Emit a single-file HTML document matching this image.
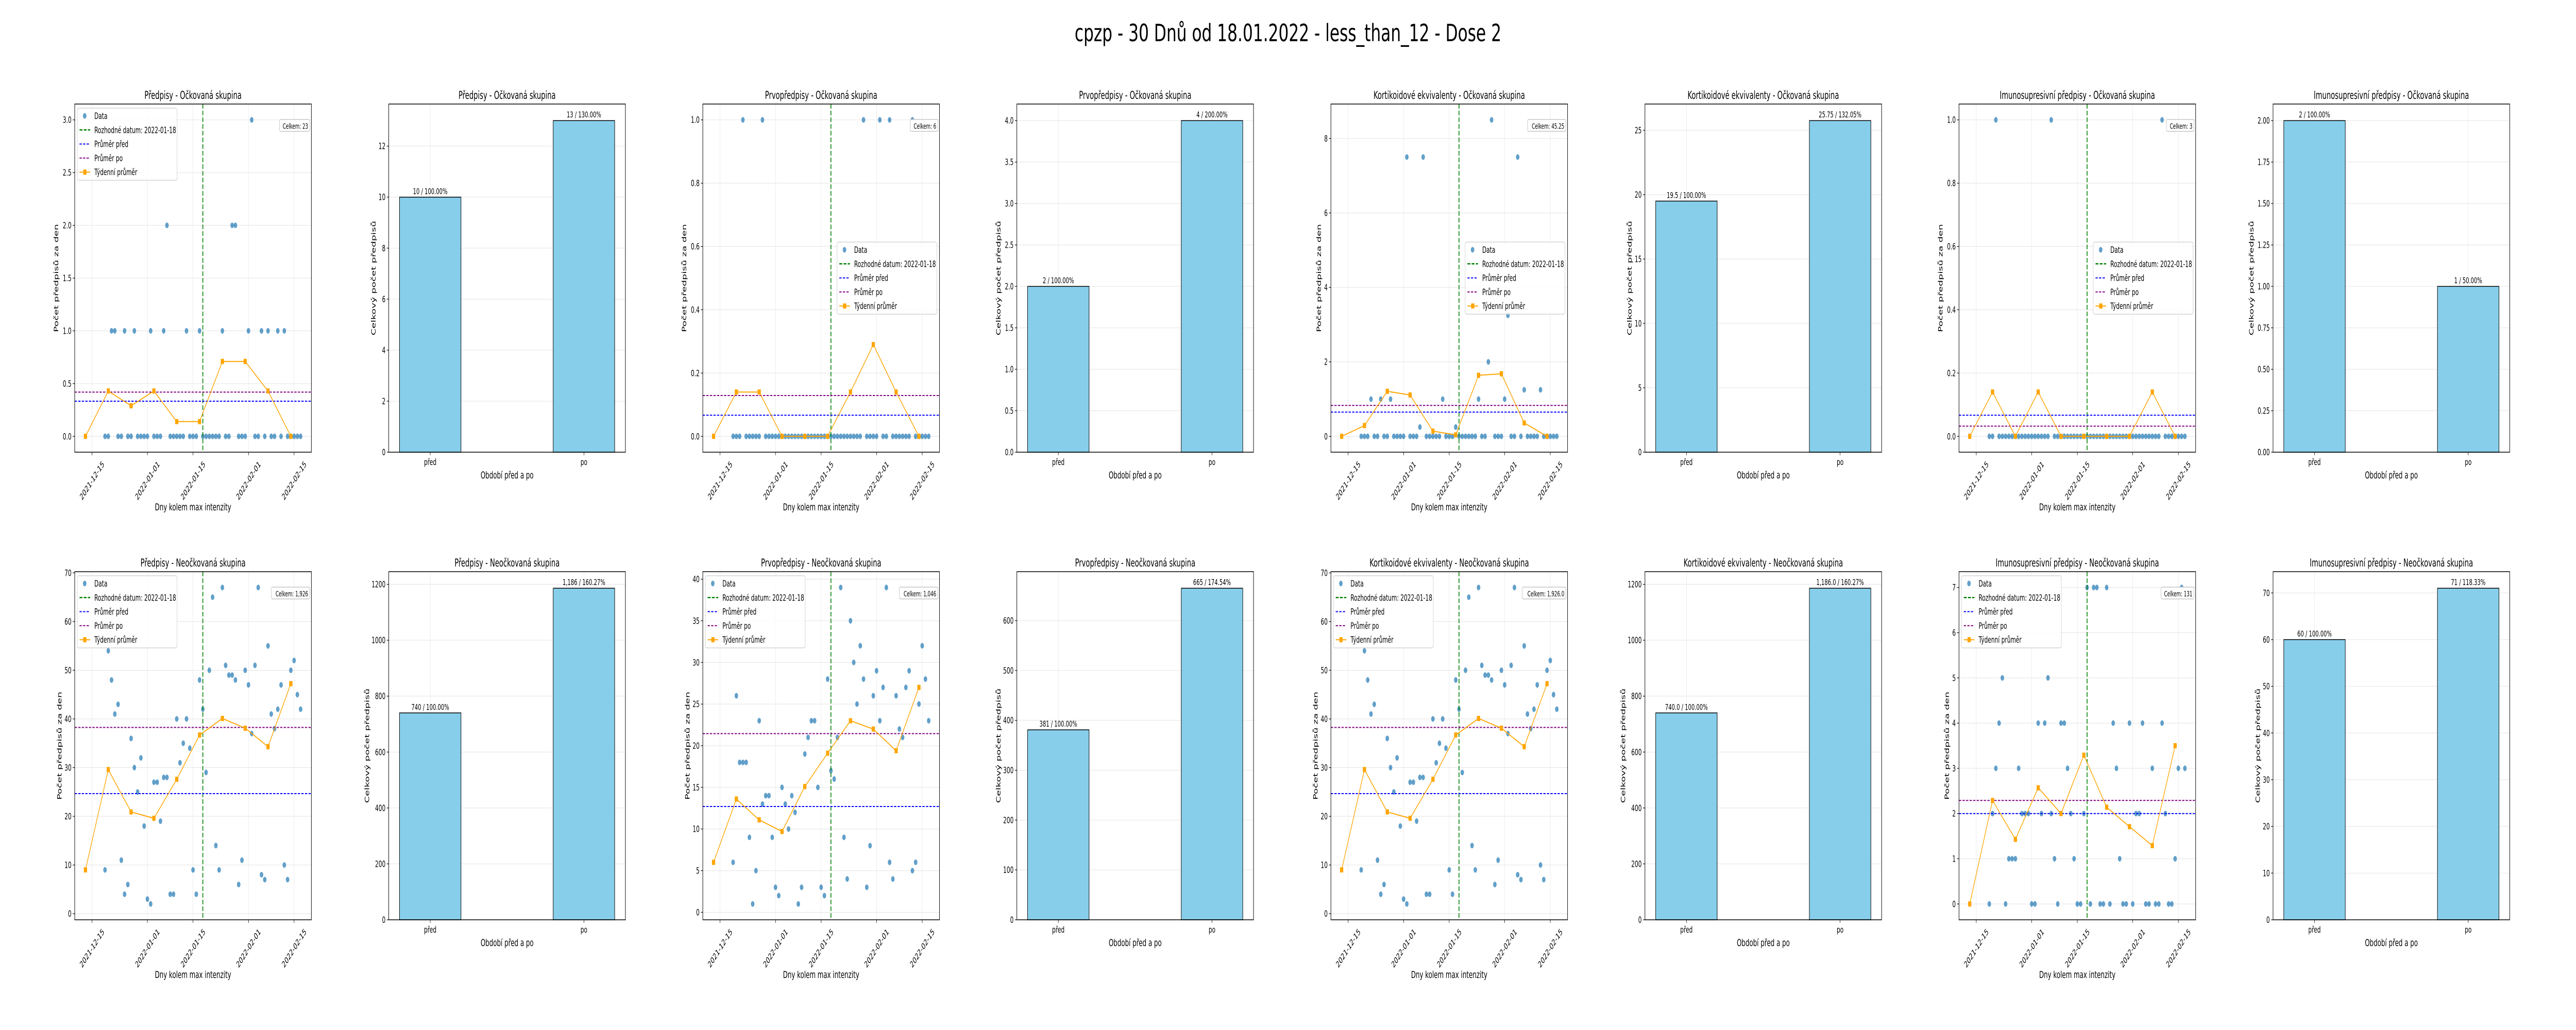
<!DOCTYPE html>
<html><head><meta charset="utf-8">
<style>
html,body{margin:0;padding:0;background:#fff;width:100%;height:100%;overflow:hidden;}
svg{display:block;width:100vw;height:100vh;font-family:"DejaVu Sans","Liberation Sans",sans-serif;}
</style></head>
<body>
<svg id="chart" viewBox="0 0 8000 2000" preserveAspectRatio="none" xmlns="http://www.w3.org/2000/svg">
<rect x="0" y="0" width="8000" height="2000" fill="#fff"/>
<text x="4000" y="80" text-anchor="middle" font-size="46" textLength="1325" lengthAdjust="spacingAndGlyphs" fill="#000">cpzp - 30 Dnů od 18.01.2022 - less_than_12 - Dose 2</text>
</svg>
<script>
// ---------- data ----------
const dailyStart = '2021-12-19';
const weeklyStart = '2021-12-13';
const decisionDate = '2022-01-18';
const dateTickLabels = ['2021-12-15','2022-01-01','2022-01-15','2022-02-01','2022-02-15'];
const barCategories = ['před','po'];

const predOckDaily = [0,0,1,1,0,0,1,0,0,1, 0,0,0,0,1,0,0,0,1,2, 0,0,0,0,0,1,0,0,0,1, 0,0,0,0,0,0,1,0,0,2, 2,0,0,0,1,3,0,0,1,0, 1,0,0,1,0,1,0,0,0,0, 0];
const prvoOckDaily = [0,0,0,1,0,0,0,0,0,1, 0,0,0,0,0,0,0,0,0,0, 0,0,0,0,0,0,0,0,0,0, 0,0,0,0,0,0,0,0,0,0, 1,0,0,0,0,1,0,0,1,0, 0,0,0,0,0,1,0,0,0,0, 0];
const kortOckDaily = [0,0,0,1,0,0,1,0,0,1, 0,0,0,0,7.5,0,0,0,0.25,7.5, 0,0,0,0,0,1,0,0,0,0.25, 0,0,0,0,0,0,1,0,0,2, 8.5,0,0,0,1,3.25,0,0,7.5,0, 1.25,0,0,0,0,1.25,0,0,0,0, 0];
const imunoOckDaily = [0,0,1,0,0,0,0,0,0,0, 0,0,0,0,0,0,0,0,0,1, 0,0,0,0,0,0,0,0,0,0, 0,0,0,0,0,0,0,0,0,0, 0,0,0,0,0,0,0,0,0,0, 0,0,0,1,0,0,0,0,0,0, 0];
const predNeoDaily = [9,54,48,41,43,11,4,6,36,30, 25,32,18,3,2,27,27,19,28,28, 4,4,40,31,35,40,34,9,4,48, 42,29,50,65,14,9,67,51,49,49, 48,6,11,50,47,37,51,67,8,7, 55,41,38,42,47,10,7,50,52,45, 42];
const prvoNeoDaily = [6,26,18,18,18,9,1,5,23,13, 14,14,9,3,2,15,13,10,14,12, 1,3,19,21,23,23,15,3,2,28, 17,16,21,39,9,4,35,30,25,32, 28,3,8,26,29,23,27,39,6,4, 26,22,21,27,29,5,6,25,32,28, 23];
const kortNeoDaily = [9,54,48,41,43,11,4,6,36,30, 25,32,18,3,2,27,27,19,28,28, 4,4,40,31,35,40,34,9,4,48, 42,29,50,65,14,9,67,51,49,49, 48,6,11,50,47,37,51,67,8,7, 55,41,38,42,47,10,7,50,52,45, 42];
const imunoNeoDaily = [0,2,3,4,5,0,1,1,1,3, 2,2,2,0,0,4,2,4,5,2, 1,0,4,4,3,2,1,0,0,2, 7,0,7,7,0,0,7,0,4,3, 1,0,0,4,0,2,2,4,0,0, 3,0,0,4,2,0,0,1,3,7, 3];

const predOckWeekly = [0,0.43,0.29,0.43,0.14,0.14,0.71,0.71,0.43,0];
const prvoOckWeekly = [0,0.14,0.14,0,0,0,0.14,0.29,0.14,0];
const kortOckWeekly = [0,0.29,1.21,1.11,0.14,0.04,1.64,1.68,0.36,0];
const imunoOckWeekly = [0,0.14,0,0.14,0,0,0,0,0.14,0];
const predNeoWeekly = [9,29.6,20.9,19.6,27.6,36.7,40.1,38.1,34.3,47.25];
const prvoNeoWeekly = [6,13.6,11.1,9.7,15.1,19.1,23,22,19.4,27];
const kortNeoWeekly = [9,29.6,20.9,19.6,27.6,36.7,40.1,38.1,34.3,47.25];
const imunoNeoWeekly = [0,2.29,1.43,2.57,2,3.29,2.14,1.71,1.29,3.5];

const totalLabels = ['Celkem: 23','Celkem: 6','Celkem: 45.25','Celkem: 3','Celkem: 1,926','Celkem: 1,046','Celkem: 1,926.0','Celkem: 131'];

const predOckBars = [10,13];
const prvoOckBars = [2,4];
const kortOckBars = [19.5,25.75];
const imunoOckBars = [2,1];
const predNeoBars = [740,1186];
const prvoNeoBars = [381,665];
const kortNeoBars = [740,1186];
const imunoNeoBars = [60,71];

const predOckBarLabels = ['10 / 100.00%','13 / 130.00%'];
const prvoOckBarLabels = ['2 / 100.00%','4 / 200.00%'];
const kortOckBarLabels = ['19.5 / 100.00%','25.75 / 132.05%'];
const imunoOckBarLabels = ['2 / 100.00%','1 / 50.00%'];
const predNeoBarLabels = ['740 / 100.00%','1,186 / 160.27%'];
const prvoNeoBarLabels = ['381 / 100.00%','665 / 174.54%'];
const kortNeoBarLabels = ['740.0 / 100.00%','1,186.0 / 160.27%'];
const imunoNeoBarLabels = ['60 / 100.00%','71 / 118.33%'];

const scatterTicksTop1 = [0,0.5,1,1.5,2,2.5,3];
const scatterTicksTop3 = [0,0.2,0.4,0.6,0.8,1];
const scatterTicksTop5 = [0,2,4,6,8];
const scatterTicksTop7 = [0,0.2,0.4,0.6,0.8,1];
const scatterTicksBot1 = [0,10,20,30,40,50,60,70];
const scatterTicksBot3 = [0,5,10,15,20,25,30,35,40];
const scatterTicksBot5 = [0,10,20,30,40,50,60,70];
const scatterTicksBot7 = [0,1,2,3,4,5,6,7];
const barTicksTop2 = [0,2,4,6,8,10,12];
const barTicksTop4 = [0,0.5,1,1.5,2,2.5,3,3.5,4];
const barTicksTop6 = [0,5,10,15,20,25];
const barTicksTop8 = [0,0.25,0.5,0.75,1,1.25,1.5,1.75,2];
const barTicksBot2 = [0,200,400,600,800,1000,1200];
const barTicksBot4 = [0,100,200,300,400,500,600];
const barTicksBot6 = [0,200,400,600,800,1000,1200];
const barTicksBot8 = [0,10,20,30,40,50,60,70];

// ---------- drawing ----------
const NS = 'http://www.w3.org/2000/svg';
const svg = document.getElementById('chart');
function mk(parent, tag, attrs, text) {
  const e = document.createElementNS(NS, tag);
  for (const k in attrs) e.setAttribute(k, attrs[k]);
  if (text !== undefined) e.textContent = text;
  parent.appendChild(e);
  return e;
}
function dayOf(s) { return (Date.parse(s + 'T00:00:00Z') - Date.parse('2021-12-15T00:00:00Z')) / 864e5; }
const PW = 735, PH = 676;
function colLeft(c) { return 232 + c * 975.3; }
const rowTop = [202, 1110];
const GRID = '#e3e3e3';

function scatterPanel(col, row, title, daily, weekly, ticks, dec, total, legendLoc) {
  const L = colLeft(col), T = rowTop[row], R = L + PW, B = T + PH;
  const g = mk(svg, 'g', {});
  
  
  const d0 = dayOf(dailyStart), w0 = dayOf(weeklyStart), dd = dayOf(decisionDate);
  const xs = daily.map((v, i) => d0 + i), wx = weekly.map((v, i) => w0 + 7 * i);
  const allX = xs.concat(wx), allY = daily.concat(weekly);
  let xmin = Math.min(...allX), xmax = Math.max(...allX);
  let mx = (xmax - xmin) * 0.05; xmin -= mx; xmax += mx;
  let ymin = Math.min(...allY), ymax = Math.max(...allY);
  let my = (ymax - ymin) * 0.05; ymin -= my; ymax += my;
  const X = v => L + (v - xmin) / (xmax - xmin) * PW;
  const Y = v => B - (v - ymin) / (ymax - ymin) * PH;
  ticks.forEach(t => {
    const gl = mk(g, 'line', {x1: L, x2: R, y1: Y(t), y2: Y(t), stroke: GRID, 'stroke-width': 1});
    
    
  });
  dateTickLabels.forEach(s => {
    const x = X(dayOf(s));
    const gl = mk(g, 'line', {x1: x, x2: x, y1: T, y2: B, stroke: GRID, 'stroke-width': 1});
    
    
  });
  daily.forEach((v, i) => {
    const c = mk(g, 'circle', {cx: X(xs[i]), cy: Y(v), r: 5.5, fill: '#1f77b4', 'fill-opacity': 0.7});
    
    
  });
  const dl = mk(g, 'line', {x1: X(dd), x2: X(dd), y1: T, y2: B, stroke: '#008000', 'stroke-width': 2.5, 'stroke-dasharray': '9,4'});
  
  
  const nb = daily.filter((v, i) => xs[i] < dd), na = daily.filter((v, i) => xs[i] >= dd);
  const mb = nb.reduce((a, b) => a + b, 0) / nb.length, ma = na.reduce((a, b) => a + b, 0) / na.length;
  const ml1 = mk(g, 'line', {x1: L, x2: R, y1: Y(mb), y2: Y(mb), stroke: '#0000ff', 'stroke-width': 2, 'stroke-dasharray': '7,4'});
  
  
  const ml2 = mk(g, 'line', {x1: L, x2: R, y1: Y(ma), y2: Y(ma), stroke: '#800080', 'stroke-width': 2, 'stroke-dasharray': '7,4'});
  
  
  const wl = mk(g, 'polyline', {points: weekly.map((v, i) => X(wx[i]) + ',' + Y(v)).join(' '), fill: 'none', stroke: '#ffa500', 'stroke-width': 2});
  
  
  weekly.forEach((v, i) => {
    const s = mk(g, 'rect', {x: X(wx[i]) - 5, y: Y(v) - 5, width: 10, height: 10, fill: '#ffa500'});
    
    
  });
  const fr = mk(g, 'rect', {x: L, y: T, width: PW, height: PH, fill: 'none', stroke: '#000', 'stroke-width': 1.5});
  
  
  ticks.forEach(t => {
    const tk = mk(g, 'line', {x1: L - 6, x2: L, y1: Y(t), y2: Y(t), stroke: '#000', 'stroke-width': 1.2});
    
    
    const tl = mk(g, 'text', {x: L - 10, y: Y(t) + 6, 'text-anchor': 'end', 'font-size': 17}, t.toFixed(dec));
    
    
  });
  dateTickLabels.forEach(s => {
    const x = X(dayOf(s));
    const tk = mk(g, 'line', {x1: x, x2: x, y1: B, y2: B + 6, stroke: '#000', 'stroke-width': 1.2});
    
    
    const tl = mk(g, 'text', {x: x, y: B + 61, 'text-anchor': 'middle', 'font-size': 17, transform: 'rotate(-45 ' + x + ' ' + (B + 55) + ')'}, s);
    
    
  });
  const maxChars = Math.max(...ticks.map(t => t.toFixed(dec).length));
  const ylx = L - (maxChars * 10 + 28);
  const yl = mk(g, 'text', {x: ylx, y: (T + B) / 2, 'text-anchor': 'middle', 'font-size': 19, transform: 'rotate(-90 ' + ylx + ' ' + (T + B) / 2 + ')', dy: 7}, 'Počet předpisů za den');
  
  
  const xl = mk(g, 'text', {x: (L + R) / 2, y: B + 113, 'text-anchor': 'middle', 'font-size': 19}, 'Dny kolem max intenzity');
  
  
  const ti = mk(g, 'text', {x: (L + R) / 2, y: T - 10, 'text-anchor': 'middle', 'font-size': 21}, title);
  
  
  const tt = mk(g, 'text', {x: R - 10, y: T + 48, 'text-anchor': 'end', 'font-size': 14}, total);
  
  
  const tw = total.length * 8.4;
  const tb = mk(g, 'rect', {x: R - 10 - tw - 5, y: T + 30, width: tw + 10, height: 23, rx: 3, fill: '#fff', stroke: '#bbb', 'stroke-width': 1.2});
  
  
  g.appendChild(tt);
  const LW = 310, LH = 140;
  const lx = legendLoc === 'ul' ? L + 8 : R - 8 - LW;
  const ly = legendLoc === 'ul' ? T + 8 : (T + B) / 2 - LH / 2;
  const lg = mk(g, 'g', {});
  
  
  const lb = mk(lg, 'rect', {x: lx, y: ly, width: LW, height: LH, rx: 4, fill: '#fff', 'fill-opacity': 0.8, stroke: '#ccc', 'stroke-width': 1.2});
  
  
  const labels = ['Data', 'Rozhodné datum: 2022-01-18', 'Průměr před', 'Průměr po', 'Týdenní průměr'];
  labels.forEach((lab, k) => {
    const cy = ly + 15 + k * 27.3;
    if (k === 0) {
      const h = mk(lg, 'circle', {cx: lx + 23, cy: cy, r: 5.5, fill: '#1f77b4', 'fill-opacity': 0.7});
      
      
    } else {
      const col2 = ['', '#008000', '#0000ff', '#800080', '#ffa500'][k];
      const h = mk(lg, 'line', {x1: lx + 7, x2: lx + 40, y1: cy, y2: cy, stroke: col2, 'stroke-width': k === 1 ? 2.5 : 2, 'stroke-dasharray': k === 4 ? 'none' : (k === 1 ? '9,4' : '7,4')});
      
      
      if (k === 4) {
        const sq = mk(lg, 'rect', {x: lx + 18.5, y: cy - 5, width: 10, height: 10, fill: '#ffa500'});
        
        
      }
    }
    const t = mk(lg, 'text', {x: lx + 53, y: cy + 6, 'font-size': 17}, lab);
    
    
  });
}

function barPanel(col, row, title, vals, labels, ticks, dec) {
  const L = colLeft(col), T = rowTop[row], R = L + PW, B = T + PH;
  const g = mk(svg, 'g', {});
  
  
  const bw = 0.4, xmin = -bw / 2 - 0.07, xmax = 1 + bw / 2 + 0.07;
  const ymax = Math.max(...vals) * 1.05;
  const X = v => L + (v - xmin) / (xmax - xmin) * PW;
  const Y = v => B - v / ymax * PH;
  ticks.forEach(t => {
    const gl = mk(g, 'line', {x1: L, x2: R, y1: Y(t), y2: Y(t), stroke: GRID, 'stroke-width': 1});
    
    
  });
  barCategories.forEach((c, i) => {
    const gl = mk(g, 'line', {x1: X(i), x2: X(i), y1: T, y2: B, stroke: GRID, 'stroke-width': 1});
    
    
  });
  vals.forEach((v, i) => {
    const b = mk(g, 'rect', {x: X(i - bw / 2), y: Y(v), width: X(i + bw / 2) - X(i - bw / 2), height: B - Y(v), fill: '#87ceeb', stroke: '#000', 'stroke-width': 1.5});
    
    
    const bl = mk(g, 'text', {x: X(i), y: Y(v) - 6, 'text-anchor': 'middle', 'font-size': 16}, labels[i]);
    
    
    const tk = mk(g, 'line', {x1: X(i), x2: X(i), y1: B, y2: B + 6, stroke: '#000', 'stroke-width': 1.2});
    
    
    const tl = mk(g, 'text', {x: X(i), y: B + 25, 'text-anchor': 'middle', 'font-size': 17}, barCategories[i]);
    
    
  });
  const fr = mk(g, 'rect', {x: L, y: T, width: PW, height: PH, fill: 'none', stroke: '#000', 'stroke-width': 1.5});
  
  
  ticks.forEach(t => {
    const tk = mk(g, 'line', {x1: L - 6, x2: L, y1: Y(t), y2: Y(t), stroke: '#000', 'stroke-width': 1.2});
    
    
    const tl = mk(g, 'text', {x: L - 10, y: Y(t) + 6, 'text-anchor': 'end', 'font-size': 17}, t.toFixed(dec));
    
    
  });
  const maxChars = Math.max(...ticks.map(t => t.toFixed(dec).length));
  const ylx = L - (maxChars * 10 + 28);
  const yl = mk(g, 'text', {x: ylx, y: (T + B) / 2, 'text-anchor': 'middle', 'font-size': 19, transform: 'rotate(-90 ' + ylx + ' ' + (T + B) / 2 + ')', dy: 7}, 'Celkový počet předpisů');
  
  
  const xl = mk(g, 'text', {x: (L + R) / 2, y: B + 51, 'text-anchor': 'middle', 'font-size': 19}, 'Období před a po');
  
  
  const ti = mk(g, 'text', {x: (L + R) / 2, y: T - 10, 'text-anchor': 'middle', 'font-size': 21}, title);
  
  
}

scatterPanel(0, 0, 'Předpisy - Očkovaná skupina', predOckDaily, predOckWeekly, scatterTicksTop1, 1, totalLabels[0], 'ul');
barPanel(1, 0, 'Předpisy - Očkovaná skupina', predOckBars, predOckBarLabels, barTicksTop2, 0);
scatterPanel(2, 0, 'Prvopředpisy - Očkovaná skupina', prvoOckDaily, prvoOckWeekly, scatterTicksTop3, 1, totalLabels[1], 'cr');
barPanel(3, 0, 'Prvopředpisy - Očkovaná skupina', prvoOckBars, prvoOckBarLabels, barTicksTop4, 1);
scatterPanel(4, 0, 'Kortikoidové ekvivalenty - Očkovaná skupina', kortOckDaily, kortOckWeekly, scatterTicksTop5, 0, totalLabels[2], 'cr');
barPanel(5, 0, 'Kortikoidové ekvivalenty - Očkovaná skupina', kortOckBars, kortOckBarLabels, barTicksTop6, 0);
scatterPanel(6, 0, 'Imunosupresivní předpisy - Očkovaná skupina', imunoOckDaily, imunoOckWeekly, scatterTicksTop7, 1, totalLabels[3], 'cr');
barPanel(7, 0, 'Imunosupresivní předpisy - Očkovaná skupina', imunoOckBars, imunoOckBarLabels, barTicksTop8, 2);

scatterPanel(0, 1, 'Předpisy - Neočkovaná skupina', predNeoDaily, predNeoWeekly, scatterTicksBot1, 0, totalLabels[4], 'ul');
barPanel(1, 1, 'Předpisy - Neočkovaná skupina', predNeoBars, predNeoBarLabels, barTicksBot2, 0);
scatterPanel(2, 1, 'Prvopředpisy - Neočkovaná skupina', prvoNeoDaily, prvoNeoWeekly, scatterTicksBot3, 0, totalLabels[5], 'ul');
barPanel(3, 1, 'Prvopředpisy - Neočkovaná skupina', prvoNeoBars, prvoNeoBarLabels, barTicksBot4, 0);
scatterPanel(4, 1, 'Kortikoidové ekvivalenty - Neočkovaná skupina', kortNeoDaily, kortNeoWeekly, scatterTicksBot5, 0, totalLabels[6], 'ul');
barPanel(5, 1, 'Kortikoidové ekvivalenty - Neočkovaná skupina', kortNeoBars, kortNeoBarLabels, barTicksBot6, 0);
scatterPanel(6, 1, 'Imunosupresivní předpisy - Neočkovaná skupina', imunoNeoDaily, imunoNeoWeekly, scatterTicksBot7, 0, totalLabels[7], 'ul');
barPanel(7, 1, 'Imunosupresivní předpisy - Neočkovaná skupina', imunoNeoBars, imunoNeoBarLabels, barTicksBot8, 0);
</script>
</body></html>
